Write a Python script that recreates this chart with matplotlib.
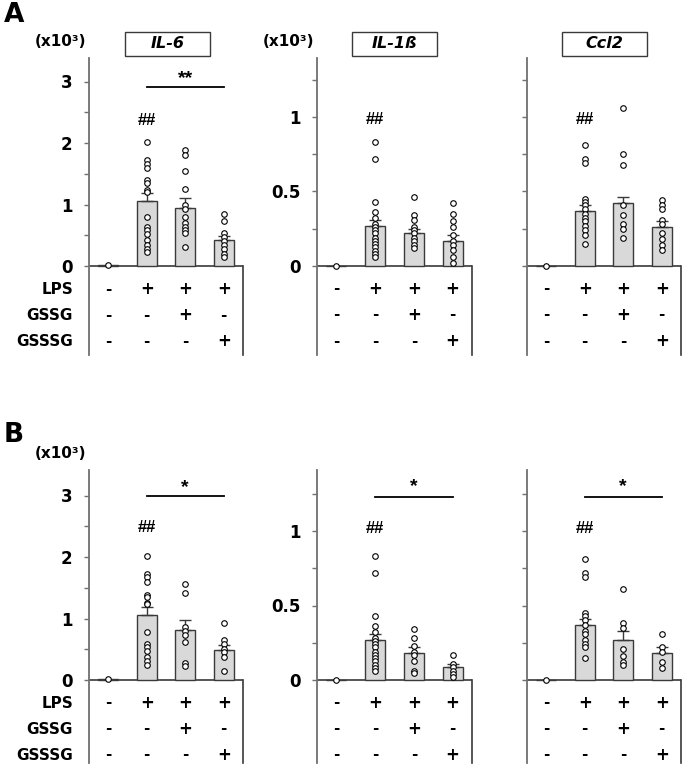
import numpy as np
import matplotlib
matplotlib.use('Agg')
import matplotlib.pyplot as plt
import matplotlib.patches as patches

plt.rcParams['font.family'] = ['DejaVu Sans']
plt.rcParams['font.weight'] = 'bold'

# ---- data (values in x10^3) ----
genes = ['IL-6', 'IL-1ß', 'Ccl2']
lps_row = ['-', '+', '+', '+']
gssg_row = ['-', '-', '+', '-']
gsssg_row = ['-', '-', '-', '+']
row_names = ['LPS', 'GSSG', 'GSSSG']

# panel A
a_il6_mean = [0.01, 1.05, 0.95, 0.42]
a_il6_sem = [0.0, 0.14, 0.15, 0.07]
a_il6_pts = [[0.01],
             [2.02, 1.73, 1.66, 1.59, 1.40, 1.35, 1.24, 1.21, 0.79, 0.64, 0.58, 0.52, 0.42, 0.34, 0.28, 0.23],
             [1.89, 1.80, 1.54, 1.26, 0.99, 0.93, 0.79, 0.70, 0.64, 0.58, 0.53, 0.31],
             [0.84, 0.73, 0.54, 0.47, 0.41, 0.34, 0.27, 0.20, 0.15]]

a_il1b_mean = [0.003, 0.27, 0.22, 0.17]
a_il1b_sem = [0.0, 0.04, 0.03, 0.04]
a_il1b_pts = [[0.003],
              [0.83, 0.72, 0.43, 0.36, 0.32, 0.28, 0.26, 0.24, 0.22, 0.19, 0.17, 0.15, 0.13, 0.10, 0.08, 0.06],
              [0.46, 0.34, 0.31, 0.26, 0.24, 0.22, 0.19, 0.17, 0.14, 0.12],
              [0.42, 0.35, 0.30, 0.26, 0.21, 0.17, 0.14, 0.11, 0.06, 0.02]]

a_ccl2_mean = [0.003, 0.37, 0.42, 0.26]
a_ccl2_sem = [0.0, 0.04, 0.04, 0.04]
a_ccl2_pts = [[0.003],
              [0.81, 0.72, 0.69, 0.45, 0.43, 0.41, 0.38, 0.35, 0.32, 0.30, 0.27, 0.24, 0.21, 0.15],
              [1.06, 0.75, 0.68, 0.41, 0.34, 0.28, 0.25, 0.19],
              [0.44, 0.41, 0.38, 0.31, 0.28, 0.22, 0.18, 0.14, 0.11]]

# panel B
b_il6_mean = [0.01, 1.05, 0.82, 0.48]
b_il6_sem = [0.0, 0.13, 0.16, 0.09]
b_il6_pts = [[0.01],
             [2.02, 1.73, 1.67, 1.60, 1.39, 1.35, 1.25, 1.23, 0.78, 0.59, 0.54, 0.47, 0.38, 0.31, 0.24],
             [1.56, 1.41, 0.86, 0.80, 0.73, 0.62, 0.28, 0.22],
             [0.93, 0.65, 0.58, 0.51, 0.46, 0.38, 0.15]]

b_il1b_mean = [0.003, 0.27, 0.18, 0.09]
b_il1b_sem = [0.0, 0.04, 0.04, 0.02]
b_il1b_pts = [[0.003],
              [0.83, 0.72, 0.43, 0.36, 0.32, 0.28, 0.26, 0.24, 0.22, 0.19, 0.17, 0.15, 0.13, 0.10, 0.08, 0.06],
              [0.34, 0.28, 0.23, 0.19, 0.17, 0.13, 0.06, 0.05],
              [0.17, 0.11, 0.09, 0.06, 0.04, 0.02]]

b_ccl2_mean = [0.003, 0.37, 0.27, 0.18]
b_ccl2_sem = [0.0, 0.04, 0.06, 0.04]
b_ccl2_pts = [[0.003],
              [0.81, 0.72, 0.69, 0.45, 0.43, 0.40, 0.37, 0.33, 0.31, 0.27, 0.24, 0.22, 0.15],
              [0.61, 0.38, 0.35, 0.21, 0.16, 0.12, 0.10],
              [0.31, 0.22, 0.19, 0.12, 0.08]]

# significance marks: (## height, bar height, star text, star height)
a_sig = [(2.37, 2.91, '**', 3.05), (0.98, None, None, None), (0.98, None, None, None)]
b_sig = [(2.48, 3.0, '*', 3.13), (1.02, 1.23, '*', 1.30), (1.02, 1.23, '*', 1.30)]

W, H = 685, 766
fig = plt.figure(figsize=(W / 100, H / 100), dpi=100)
fig.patch.set_facecolor('white')

cols = [(89, 243), (317, 472), (527, 681)]
px_per_unit = [61.5, 149.0, 149.0]
row_off = [23, 49, 75]
SYM = ['Liberation Sans', 'DejaVu Sans']


def panel(col, top, zero, bottom, mean, sem, pts, sig, show_rows):
    left, right = cols[col]
    s = px_per_unit[col]
    ax = fig.add_axes([left / W, 1 - bottom / H, (right - left) / W, (bottom - top) / H])
    ax.set_xlim(-0.5, 3.5)
    ax.set_ylim(-(bottom - zero) / s, (zero - top) / s)
    x = np.arange(4)
    ax.bar(x, mean, width=0.52, color='#d9d9d9', edgecolor='#3a3a3a', linewidth=1.0, zorder=2)
    ax.errorbar(x[1:], mean[1:], yerr=[np.zeros(3), sem[1:]], fmt='none',
                ecolor='#3a3a3a', elinewidth=1.0, capsize=4, capthick=1.0, zorder=2)
    for i, p in enumerate(pts):
        ax.plot(np.full(len(p), i), p, 'o', mfc='white', mec='black', ms=4.0, mew=0.8, zorder=4)
    ax.axhline(0, color='#3a3a3a', lw=1.2, zorder=1)

    for sp in ['top', 'bottom']:
        ax.spines[sp].set_visible(False)
    ax.spines['left'].set_color('#707070')
    ax.spines['left'].set_linewidth(1.3)
    ax.spines['right'].set_color('#3a3a3a')
    ax.spines['right'].set_linewidth(1.2)
    ax.spines['right'].set_bounds(ax.get_ylim()[0], 0)
    ax.set_xticks([])

    if col == 0:
        ticks = np.arange(0, 3.01, 0.5)
        labels = ['%d' % t if t == int(t) else '' for t in ticks]
    else:
        ticks = np.arange(0, 1.26, 0.25)
        if col == 1:
            labels = {0: '0', 0.5: '0.5', 1.0: '1'}
            labels = [labels.get(t, '') for t in ticks]
        else:
            labels = [''] * len(ticks)
    ax.set_yticks(ticks)
    ax.set_yticklabels(labels, fontsize=12, fontweight='bold')
    ax.tick_params(axis='y', length=3.8, width=1.0, color='#707070', pad=8)

    # +/- table
    for r, row in enumerate([lps_row, gssg_row, gsssg_row]):
        yy = -row_off[r] / s
        for i, sign in enumerate(row):
            ax.text(i, yy, sign, ha='center', va='center', fontsize=12 if sign == '+' else 11,
                    fontweight='heavy')
        if show_rows:
            ax.text(-0.5 - 16 / 38.5, yy, row_names[r], ha='right', va='center',
                    fontsize=11, fontweight='bold')

    hh, ly, st, sy = sig
    ax.text(1, hh, '##', ha='center', va='center', fontsize=12, fontweight='bold', family=SYM)
    if ly is not None:
        ax.plot([1, 3], [ly, ly], color='black', lw=1.3)
        ax.text(2, sy, st, ha='center', va='center', fontsize=14, fontweight='bold', family=SYM)
    return ax


a_mean = [a_il6_mean, a_il1b_mean, a_ccl2_mean]
a_sem = [a_il6_sem, a_il1b_sem, a_ccl2_sem]
a_pts = [a_il6_pts, a_il1b_pts, a_ccl2_pts]
b_mean = [b_il6_mean, b_il1b_mean, b_ccl2_mean]
b_sem = [b_il6_sem, b_il1b_sem, b_ccl2_sem]
b_pts = [b_il6_pts, b_il1b_pts, b_ccl2_pts]

for c in range(3):
    panel(c, 58, 266, 355, a_mean[c], a_sem[c], a_pts[c], a_sig[c], c == 0)
    panel(c, 470, 680, 763, b_mean[c], b_sem[c], b_pts[c], b_sig[c], c == 0)

# gene title boxes
box_x = [125, 352, 562]
for g, bx in zip(genes, box_x):
    rect = patches.Rectangle((bx / W, 1 - 56 / H), 85 / W, 24 / H, transform=fig.transFigure,
                             fill=False, edgecolor='#3a3a3a', linewidth=1.0)
    fig.patches.append(rect)
    fig.text((bx + 42.5) / W, 1 - 44 / H, g, ha='center', va='center',
             fontsize=11.5, fontweight='bold', style='italic')

# unit labels
for ux, uy in [(60, 42), (289, 42), (60, 453)]:
    fig.text(ux / W, 1 - uy / H, '(x10³)', ha='center', va='center',
             fontsize=11, fontweight='bold')

# panel letters
fig.text(14 / W, 1 - 15 / H, 'A', ha='center', va='center', fontsize=19, fontweight='bold')
fig.text(14 / W, 1 - 435 / H, 'B', ha='center', va='center', fontsize=19, fontweight='bold')

plt.savefig('out.png', dpi=100)
plt.close()
